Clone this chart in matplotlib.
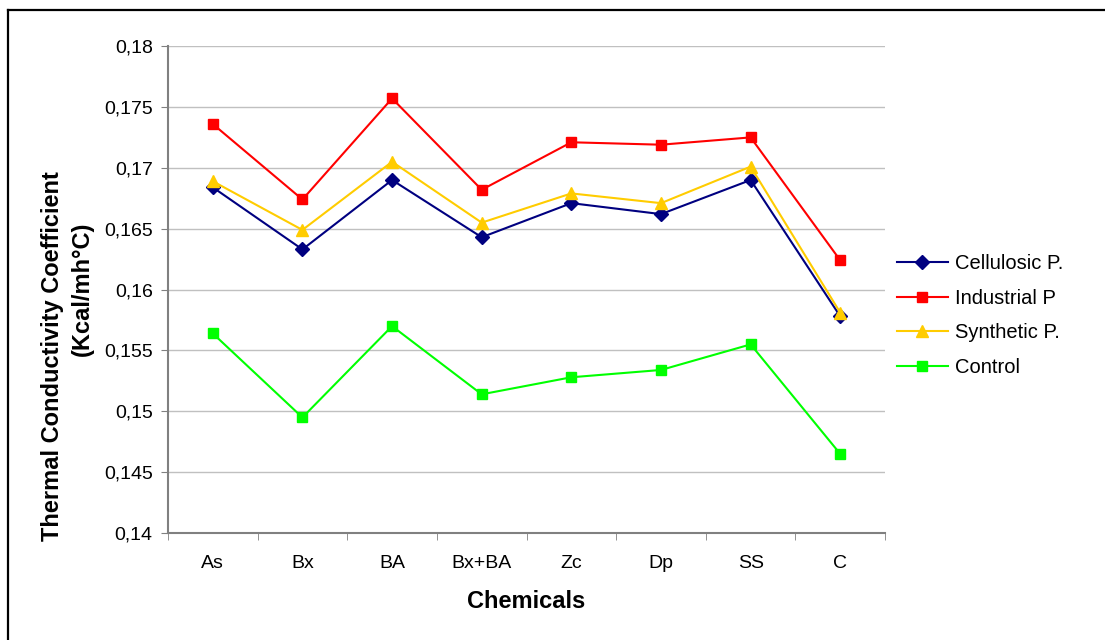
import numpy as np
import matplotlib
matplotlib.use("Agg")
import matplotlib.pyplot as plt
from matplotlib.ticker import FixedLocator, FuncFormatter

plt.rcParams["font.family"] = ["Liberation Sans", "DejaVu Sans"]

chemicals = ["As", "Bx", "BA", "Bx+BA", "Zc", "Dp", "SS", "C"]
cellulosic = [0.1684, 0.1633, 0.1690, 0.1643, 0.1671, 0.1662, 0.1690, 0.1578]
industrial = [0.1736, 0.1674, 0.1757, 0.1682, 0.1721, 0.1719, 0.1725, 0.1624]
synthetic = [0.1689, 0.1649, 0.1705, 0.1655, 0.1679, 0.1671, 0.1701, 0.1581]
control = [0.1564, 0.1495, 0.1570, 0.1514, 0.1528, 0.1534, 0.1555, 0.1465]

fig = plt.figure(figsize=(11.05, 6.4), dpi=100)

# outer frame (left and top edges visible in the reference)
fig.add_artist(plt.Line2D([8 / 1105, 8 / 1105], [0, 1 - 10 / 640], color="black", lw=1.6,
                          transform=fig.transFigure))
fig.add_artist(plt.Line2D([8 / 1105, 1], [1 - 10 / 640, 1 - 10 / 640], color="black", lw=1.6,
                          transform=fig.transFigure))

ax = fig.add_axes([0.152, 0.167, 0.649, 0.761])

x = np.arange(len(chemicals))
ax.plot(x, cellulosic, color="#000080", marker="D", markersize=7, lw=1.5, label="Cellulosic P.")
ax.plot(x, industrial, color="#ff0000", marker="s", markersize=7.5, lw=1.5, label="Industrial P")
ax.plot(x, synthetic, color="#ffcc00", marker="^", markersize=9, lw=1.5, label="Synthetic P.")
ax.plot(x, control, color="#00ff00", marker="s", markersize=7.5, lw=1.5, label="Control")

ax.set_xlim(-0.5, len(chemicals) - 0.5)
ax.set_ylim(0.14, 0.18)
ax.set_yticks(np.arange(0.14, 0.1801, 0.005))
ax.yaxis.set_major_formatter(FuncFormatter(lambda v, p: ("%g" % round(v, 3)).replace(".", ",")))
ax.set_xticks(x)
ax.set_xticklabels(chemicals)
ax.xaxis.set_minor_locator(FixedLocator(np.arange(-0.5, len(chemicals), 1.0)))
ax.tick_params(axis="x", which="major", length=0, pad=16, labelsize=14)
ax.tick_params(axis="x", which="minor", length=5, color="#808080", direction="out")
ax.tick_params(axis="y", length=5, color="#808080", labelsize=14, pad=6)

ax.grid(axis="y", color="#c0c0c0", lw=1)
ax.set_axisbelow(True)
for s in ["top", "right"]:
    ax.spines[s].set_visible(False)
for s in ["left", "bottom"]:
    ax.spines[s].set_color("#808080")
    ax.spines[s].set_linewidth(1.5)

ax.set_xlabel("Chemicals", fontsize=17, fontweight="bold", labelpad=13)

# y title: two lines placed separately, as in the reference
fig.text(53 / 1105, 1 - 356 / 640, "Thermal Conductivity Coefficient", rotation=90,
         ha="center", va="center", fontsize=17, fontweight="bold")
fig.text(82 / 1105, 1 - 289 / 640, "(Kcal/mh°C)", rotation=90,
         ha="center", va="center", fontsize=17, fontweight="bold")

ax.legend(loc="center left", bbox_to_anchor=(1.0, 0.447), frameon=False, fontsize=14.5,
          handlelength=2.5, labelspacing=0.78, borderaxespad=0.2, handletextpad=0.35)

fig.savefig("out.png", dpi=100)
